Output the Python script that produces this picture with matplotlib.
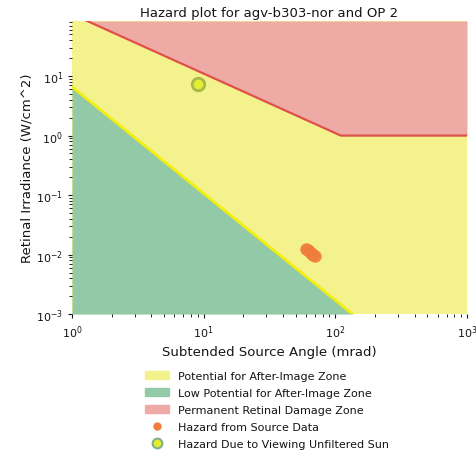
import numpy as np
import matplotlib.pyplot as plt
from matplotlib.patches import Patch
from matplotlib.lines import Line2D

# subtended angle (mrad) and retinal irradiance (W/cm^2) of the glare source
source_angle = [60.0, 62.0, 63.5, 65.0, 66.5, 68.0, 69.5]
source_irradiance = [0.0126, 0.0120, 0.0114, 0.0108, 0.0103, 0.0098, 0.0093]

# unfiltered sun
sun_angle = [9.05]
sun_irradiance = [7.5]

# zone boundaries
afterimage_pts_x = [1.0, 135.0]
afterimage_pts_y = [6.6, 1e-3]
damage_coef = 110.0      # retinal burn threshold ~ coef / angle
damage_floor = 1.0

x_min, x_max = 1.0, 1000.0
y_min, y_max = 1e-3, 84.0

title = "Hazard plot for agv-b303-nor and OP 2"

# zone colours
c_yellow = '#f4f28c'
c_green = '#92c9a6'
c_pink = '#eeaaa5'
text_c = '#151515'

fig = plt.figure(figsize=(4.77, 4.6), dpi=100)
ax = fig.add_axes([0.151, 0.315, 0.828, 0.637])

x = np.logspace(np.log10(x_min), np.log10(x_max), 400)
slope = np.diff(np.log10(afterimage_pts_y))[0] / np.diff(np.log10(afterimage_pts_x))[0]
y_after = afterimage_pts_y[0] * (x / afterimage_pts_x[0]) ** slope
y_damage = np.maximum(damage_coef / x, damage_floor)

ax.fill_between(x, y_min, y_max, color=c_yellow, lw=0)
ax.fill_between(x, y_min, np.clip(y_after, y_min, y_max), color=c_green, lw=0)
ax.fill_between(x, np.clip(y_damage, y_min, y_max), y_max, color=c_pink, lw=0)
ax.plot(x, y_after, color='#f2ee10', lw=2)
ax.plot(x, y_damage, color='#e0504a', lw=1.6)

ax.plot(source_angle, source_irradiance, 'o', color='#ef7d3c', ms=9,
        mec='none', alpha=0.9)
ax.plot(sun_angle, sun_irradiance, 'o', mfc='#e4ee30', mec='#a8b84a',
        mew=2, ms=9)

ax.set_xscale('log')
ax.set_yscale('log')
ax.set_xlim(x_min, x_max)
ax.set_ylim(y_min, y_max)
for s in ax.spines.values():
    s.set_visible(False)
ax.tick_params(labelsize=8, colors=text_c, length=3)
ax.tick_params(which='minor', length=2)

ax.set_title(title, fontsize=9.5, color=text_c, pad=4)
ax.set_xlabel("Subtended Source Angle (mrad)", fontsize=9.5, color=text_c)
ax.set_ylabel("Retinal Irradiance (W/cm^2)", fontsize=9.5, color=text_c,
              labelpad=2)

handles = [
    Patch(color=c_yellow, label='Potential for After-Image Zone'),
    Patch(color=c_green, label='Low Potential for After-Image Zone'),
    Patch(color=c_pink, label='Permanent Retinal Damage Zone'),
    Line2D([], [], ls='none', marker='o', color='#ef7d3c', mec='none', ms=6,
           label='Hazard from Source Data'),
    Line2D([], [], ls='none', marker='o', mfc='#e4ee30', mec='#7fb08a', mew=1.5,
           ms=7, label='Hazard Due to Viewing Unfiltered Sun'),
]
fig.legend(handles=handles, loc='upper center', bbox_to_anchor=(0.56, 0.213),
           frameon=False, fontsize=8, handlelength=2.2, labelspacing=0.62,
           labelcolor=text_c)

plt.savefig('out.png', dpi=100)
